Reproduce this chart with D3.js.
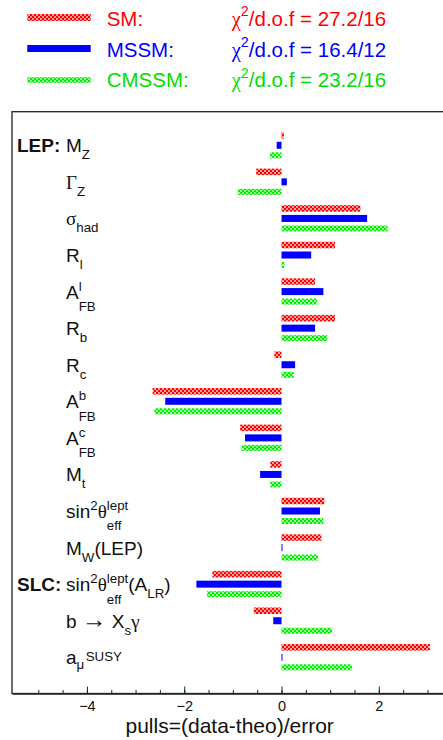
<!DOCTYPE html>
<html>
<head>
<meta charset="utf-8">
<script src="https://cdn.jsdelivr.net/npm/d3@7"></script>
<style>
  body { margin: 0; background: #fff; }
  svg { display: block; font-family: "Liberation Sans", Arial, sans-serif; }
</style>
</head>
<body>
<svg id="chart" width="443" height="740"></svg>
<script>
// Observables, top to bottom (^{...} superscript, _{...} subscript)
const categories = [
  "M_{Z}", "Γ_{Z}", "σ_{had}", "R_{l}", "A^{l}_{FB}", "R_{b}", "R_{c}",
  "A^{b}_{FB}", "A^{c}_{FB}", "M_{t}", "sin^{2}θ^{lept}_{eff}", "M_{W}(LEP)",
  "sin^{2}θ^{lept}_{eff}(A_{LR})", "b → X_{s}γ", "a_{μ}^{SUSY}"
];
const groupLabels = ["LEP:", "SLC:"];
const groupFirst = ["M_{Z}", "sin^{2}θ^{lept}_{eff}(A_{LR})"];

// Pulls = (data - theory) / error for each model
const seriesNames = ["SM", "MSSM", "CMSSM"];
const chi2PerDof = ["27.2/16", "16.4/12", "23.2/16"];
const pullsSM    = [0.05, -0.52, 1.62, 1.10, 0.69, 1.10, -0.15, -2.65, -0.85, -0.23, 0.88, 0.82, -1.42, -0.57, 3.05];
const pullsMSSM  = [-0.10, 0.11, 1.76, 0.61, 0.86, 0.69, 0.28, -2.39, -0.75, -0.44, 0.79, 0.02, -1.75, -0.17, 0.02];
const pullsCMSSM = [-0.24, -0.90, 2.18, 0.06, 0.73, 0.94, 0.25, -2.61, -0.82, -0.23, 0.86, 0.75, -1.53, 1.04, 1.45];

const tickLabels = [-4, -2, 0, 2];
const minorTicks = d3.range(-5, 3.51, 0.5);
const axisTitle = "pulls=(data-theo)/error";

const svg = d3.select("#chart");
const defs = svg.append("defs");

// checkered fills for the SM and CMSSM bars
function checker(id, light, dark) {
  const p = defs.append("pattern").attr("id", id).attr("patternUnits", "userSpaceOnUse")
    .attr("width", 4).attr("height", 4);
  p.append("rect").attr("width", 4).attr("height", 4).attr("fill", light);
  p.append("rect").attr("width", 2).attr("height", 2).attr("fill", dark);
  p.append("rect").attr("x", 2).attr("y", 2).attr("width", 2).attr("height", 2).attr("fill", dark);
}
checker("hatchRed", "#ff9c9c", "#ff0000");
checker("hatchGreen", "#9cff9c", "#00ee00");

const series = [
  { name: seriesNames[0], values: pullsSM,    fill: "url(#hatchRed)",   color: "#ff0000", dy: -10, h: 6.5 },
  { name: seriesNames[1], values: pullsMSSM,  fill: "#0000ff",          color: "#0000ff", dy: 0,   h: 7 },
  { name: seriesNames[2], values: pullsCMSSM, fill: "url(#hatchGreen)", color: "#00dd00", dy: 10,  h: 6 }
];

// frame and scales
const frame = { left: 12, top: 111.7, bottom: 693.5 };
const x = d3.scaleLinear().domain([-5.54, 3.5]).range([frame.left, frame.left + 9.04 * 48.65]);
const y = d3.scalePoint().domain(d3.range(categories.length)).range([145.3, 657.3]);

svg.append("rect")
  .attr("x", frame.left).attr("y", frame.top)
  .attr("width", x.range()[1] - frame.left).attr("height", frame.bottom - frame.top)
  .attr("fill", "none").attr("stroke", "#222").attr("stroke-width", 1.3);

// bars
series.forEach(s => {
  svg.append("g").selectAll("rect")
    .data(s.values.map((v, i) => ({ v, i })))
    .join("rect")
    .attr("x", d => Math.min(x(0), x(d.v)))
    .attr("width", d => Math.abs(x(d.v) - x(0)))
    .attr("y", d => y(d.i) + s.dy - s.h / 2)
    .attr("height", s.h)
    .attr("fill", s.fill);
});

// axis: minor ticks every 0.5, labelled majors
const axisG = svg.append("g").attr("transform", `translate(0,${frame.bottom})`);
axisG.append("g")
  .call(d3.axisBottom(x).tickValues(minorTicks).tickSize(-3.5).tickSizeOuter(0).tickFormat(""))
  .call(g => g.selectAll("line").attr("stroke", "#222"))
  .call(g => g.select(".domain").attr("stroke", "#222").attr("stroke-width", 1.3));
axisG.append("g")
  .call(d3.axisBottom(x).tickValues(tickLabels).tickSize(-7).tickSizeOuter(0).tickPadding(7)
    .tickFormat(d => d < 0 ? "\u2212" + Math.abs(d) : String(d)))
  .call(g => g.select(".domain").remove())
  .call(g => g.selectAll("line").attr("stroke", "#222"))
  .call(g => g.selectAll("text").attr("font-size", 14.5).attr("fill", "#111")
    .attr("font-family", "'Liberation Sans', Arial, sans-serif"));

svg.append("text")
  .attr("x", 125.5).attr("y", 733)
  .attr("font-size", 21).attr("fill", "#111")
  .text(axisTitle);

// rich label rendering: plain runs, superscripts and subscripts
// (a superscript directly followed by a subscript is stacked above it)
function parseRich(s) {
  const out = [];
  let i = 0, buf = "";
  while (i < s.length) {
    const c = s[i];
    if ((c === "^" || c === "_") && s[i + 1] === "{") {
      if (buf) { out.push({ t: buf, k: "n" }); buf = ""; }
      const end = s.indexOf("}", i + 2);
      out.push({ t: s.slice(i + 2, end), k: c === "^" ? "sup" : "sub" });
      i = end + 1;
    } else { buf += c; i++; }
  }
  if (buf) out.push({ t: buf, k: "n" });
  return out;
}
const greekSerif = /[Γθσγχ]/;
function fillRuns(textSel, str, size) {
  // split into runs so Greek letters get a serif face and the arrow a longer glyph
  const kindOf = ch => ch === "→" ? "arrow" : (greekSerif.test(ch) ? "serif" : "plain");
  let run = "", kind = null;
  const flush = () => {
    if (!run) return;
    const ts = textSel.append("tspan").text(run);
    if (kind === "serif") ts.attr("font-family", "'Liberation Serif', 'Times New Roman', serif");
    if (kind === "arrow") ts.attr("font-family", "'Liberation Sans', Arial, sans-serif").attr("font-size", size * 1.3);
    run = "";
  };
  for (const ch of str) {
    const k = kindOf(ch);
    if (kind !== null && k !== kind) flush();
    kind = k; run += ch;
  }
  flush();
}
function drawRich(g, str, x0, y0, size, color, supShift) {
  const toks = parseRich(str);
  let xc = x0, scriptStart = x0;
  toks.forEach((tk, j) => {
    const prev = toks[j - 1], next = toks[j + 1];
    const stackedBelow = tk.k === "sub" && prev && prev.k === "sup";
    const stackedAbove = tk.k === "sup" && next && next.k === "sub";
    let fs = size, dy = 0;
    if (tk.k === "sup") {
      fs = size * 0.7;
      dy = (prev && prev.k === "sub") ? -0.2 * size : -(supShift || 0.42) * size;
    } else if (tk.k === "sub") {
      fs = size * 0.7;
      dy = stackedBelow ? 0.65 * size : ((next && next.k === "sup") ? 0.25 * size : 0.37 * size);
    }
    const sx = stackedBelow ? scriptStart : xc;
    const t = g.append("text").attr("x", sx).attr("y", y0 + dy)
      .attr("font-size", fs).attr("fill", color);
    fillRuns(t, tk.t, fs);
    const w = t.node().getComputedTextLength();
    if (stackedBelow) xc = Math.max(xc, sx + w);
    else { scriptStart = sx; xc = sx + w + (tk.k === "sub" && next && next.k === "sup" ? 1.5 : 0); }
    if (stackedAbove) scriptStart = sx;
  });
}

// row labels
const labelsG = svg.append("g");
categories.forEach((c, i) => drawRich(labelsG, c, 66, y(i) + 7, 19, "#111"));
groupLabels.forEach((gl, k) => {
  labelsG.append("text")
    .attr("x", 17).attr("y", y(categories.indexOf(groupFirst[k])) + 7)
    .attr("font-size", 19).attr("font-weight", "bold").attr("fill", "#111")
    .text(gl);
});

// legend
const legendY = [17.5, 48.5, 80];
const legendBase = [25.7, 56.7, 87.3];
const legG = svg.append("g");
series.forEach((s, k) => {
  legG.append("rect")
    .attr("x", 27.3).attr("width", 63.4)
    .attr("y", legendY[k] - (k === 2 ? 2.8 : 3.5)).attr("height", k === 2 ? 5.6 : 7)
    .attr("fill", s.fill);
  legG.append("text")
    .attr("x", 106.7).attr("y", legendBase[k])
    .attr("font-size", 20.5).attr("fill", s.color)
    .text(s.name + ":");
  drawRich(legG, "χ^{2}/d.o.f = " + chi2PerDof[k], 231.7, legendBase[k], 20.5, s.color, 0.45);
});
</script>
</body>
</html>
